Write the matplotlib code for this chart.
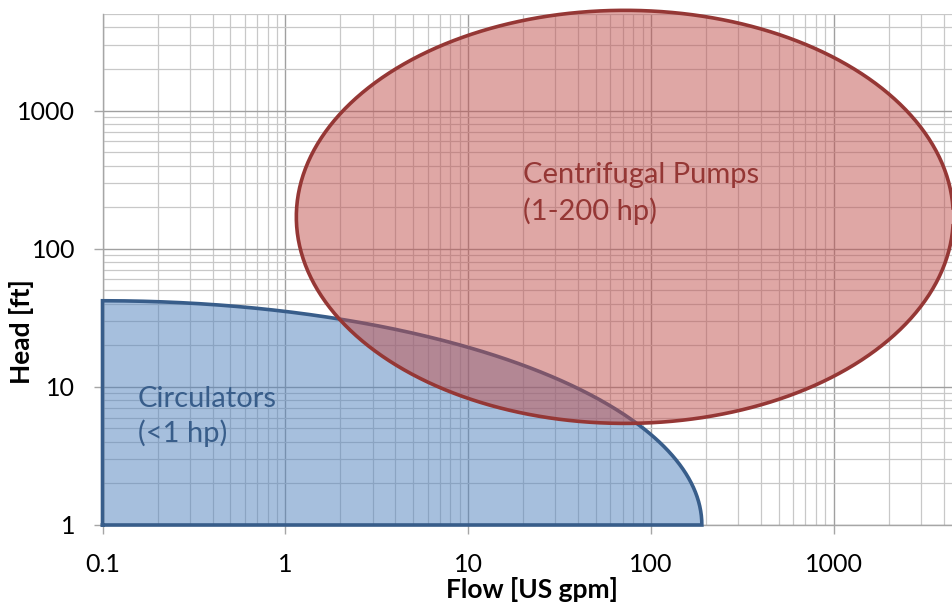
import numpy as np
import matplotlib
matplotlib.use("Agg")
import matplotlib.pyplot as plt
from matplotlib.ticker import LogLocator, NullFormatter, FixedLocator, FixedFormatter

# ---- data ----
x_ticks = [0.1, 1, 10, 100, 1000]
x_tick_labels = ["0.1", "1", "10", "100", "1000"]
y_ticks = [1, 10, 100, 1000]
y_tick_labels = ["1", "10", "100", "1000"]
x_limits = [0.1, 10000]
y_limits = [1, 5000]

# Centrifugal pumps region: ellipse in log-log space
pump_center = [72, 170]          # flow [gpm], head [ft]
pump_half_decades = [1.797, 1.495]  # half-width in decades (flow, head)

# Circulators region: quarter ellipse (log-log) anchored at (0.1 gpm, 1 ft)
circ_origin = [0.1, 1]
circ_max_head = 42      # ft at 0.1 gpm
circ_max_flow = 190     # gpm at 1 ft

labels = ["Centrifugal Pumps\n(1-200 hp)", "Circulators\n(<1 hp)"]
label_pos = [[20, 251], [0.156, 6.1]]   # left edge flow, centre head

W, H, DPI = 952, 602, 100
plt.rcParams['font.family'] = ['Lato', 'DejaVu Sans']
fig = plt.figure(figsize=(W / DPI, H / DPI), dpi=DPI)

left_px, right_px, top_px, bot_px = 102.5, 1016.5, 14, 525
ax = fig.add_axes([left_px / W, 1 - bot_px / H, (right_px - left_px) / W, (bot_px - top_px) / H])
ax.set_xscale('log')
ax.set_yscale('log')
ax.set_xlim(*x_limits)
ax.set_ylim(*y_limits)

# grid
ax.xaxis.set_minor_locator(LogLocator(base=10, subs=np.arange(2, 10)))
ax.yaxis.set_minor_locator(LogLocator(base=10, subs=np.arange(2, 10)))
ax.xaxis.set_minor_formatter(NullFormatter())
ax.yaxis.set_minor_formatter(NullFormatter())
ax.set_axisbelow(True)
ax.grid(True, which='major', color='#a0a0a0', linewidth=1.0)
ax.grid(True, which='minor', color='#c8c8c8', linewidth=0.9)

ax.xaxis.set_major_locator(FixedLocator(x_ticks))
ax.xaxis.set_major_formatter(FixedFormatter(x_tick_labels))
ax.yaxis.set_major_locator(FixedLocator(y_ticks))
ax.yaxis.set_major_formatter(FixedFormatter(y_tick_labels))
ax.tick_params(which='major', direction='out', length=6.5, width=1.0, color='#a6a6a6',
               labelsize=18, labelcolor='black')
ax.tick_params(axis='x', which='major', pad=14)
ax.tick_params(axis='y', which='major', pad=13)
ax.tick_params(which='minor', length=0)
for s in ['top', 'right']:
    ax.spines[s].set_visible(False)
for s in ['left', 'bottom']:
    ax.spines[s].set_color('#a6a6a6')
    ax.spines[s].set_linewidth(1.0)

# circulators region
t = np.linspace(0, np.pi / 2, 300)
lx0, ly0 = np.log10(circ_origin[0]), np.log10(circ_origin[1])
ax_c = np.log10(circ_max_flow) - lx0
ay_c = np.log10(circ_max_head) - ly0
cx = 10 ** (lx0 + ax_c * np.cos(t))
cy = 10 ** (ly0 + ay_c * np.sin(t))
poly_x = np.concatenate([[circ_origin[0]], cx, [circ_origin[0]]])
poly_y = np.concatenate([[circ_origin[1]], cy, [circ_origin[1]]])
ax.fill(poly_x, poly_y, facecolor='#4f81bd', alpha=0.5, edgecolor='none', zorder=2)
ax.plot(poly_x, poly_y, color='#385d8a', linewidth=2.6, zorder=3, solid_joinstyle='miter',
        clip_on=False)

# pumps ellipse
s = np.linspace(0, 2 * np.pi, 600)
ex = 10 ** (np.log10(pump_center[0]) + pump_half_decades[0] * np.cos(s))
ey = 10 ** (np.log10(pump_center[1]) + pump_half_decades[1] * np.sin(s))
ax.fill(ex, ey, facecolor='#c0504d', alpha=0.5, edgecolor='none', zorder=4, clip_on=False)
ax.plot(ex, ey, color='#953735', linewidth=2.6, zorder=5, clip_on=False)

# labels
ax.text(label_pos[0][0], label_pos[0][1], labels[0], color='#953735', fontsize=21,
        ha='left', va='center', linespacing=1.38, zorder=6)
ax.text(label_pos[1][0], label_pos[1][1], labels[1], color='#385d8a', fontsize=21,
        ha='left', va='center', linespacing=1.32, zorder=6)

fig.text(532 / W, 1 - 590 / H, "Flow [US gpm]", fontsize=19, fontweight='bold',
         ha='center', va='center')
fig.text(22 / W, 1 - 332 / H, "Head [ft]", fontsize=19, fontweight='bold',
         ha='center', va='center', rotation=90)

fig.savefig("out.png", dpi=DPI)
